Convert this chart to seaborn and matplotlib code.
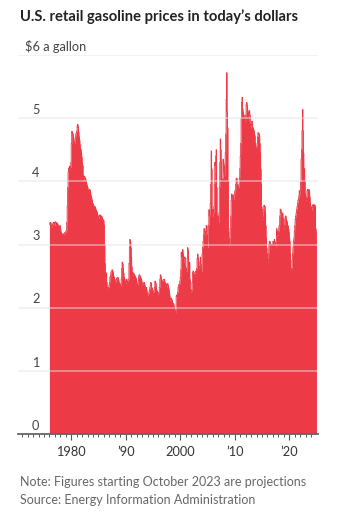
import numpy as np
import pandas as pd
import matplotlib
matplotlib.use("Agg")
import matplotlib.pyplot as plt
import seaborn as sns

# ---- data: monthly price in today's dollars, Jan 1976 .. Dec 2024 ----
years = list(range(1976, 2025))
p1976 = [3.32, 3.34, 3.35, 3.33, 3.30, 3.28, 3.30, 3.32, 3.35, 3.35, 3.33, 3.30]
p1977 = [3.35, 3.36, 3.35, 3.33, 3.32, 3.34, 3.32, 3.30, 3.27, 3.25, 3.28, 3.30]
p1978 = [3.25, 3.20, 3.17, 3.16, 3.16, 3.17, 3.16, 3.16, 3.17, 3.18, 3.19, 3.20]
p1979 = [3.20, 3.22, 3.35, 3.60, 3.90, 4.15, 4.20, 4.22, 4.24, 4.20, 4.22, 4.30]
p1980 = [4.60, 4.79, 4.78, 4.76, 4.72, 4.68, 4.62, 4.60, 4.62, 4.70, 4.75, 4.77]
p1981 = [4.80, 4.88, 4.90, 4.85, 4.78, 4.70, 4.65, 4.58, 4.52, 4.50, 4.45, 4.38]
p1982 = [4.30, 4.25, 4.10, 4.02, 4.05, 4.08, 4.05, 4.04, 4.02, 3.98, 3.95, 3.92]
p1983 = [3.90, 3.86, 3.85, 3.86, 3.87, 3.86, 3.82, 3.78, 3.75, 3.72, 3.68, 3.65]
p1984 = [3.64, 3.62, 3.60, 3.60, 3.60, 3.58, 3.55, 3.54, 3.52, 3.50, 3.47, 3.44]
p1985 = [3.42, 3.44, 3.46, 3.47, 3.46, 3.45, 3.45, 3.44, 3.42, 3.40, 3.39, 3.38]
p1986 = [3.31, 3.00, 2.70, 2.45, 2.55, 2.55, 2.40, 2.30, 2.32, 2.30, 2.32, 2.36]
p1987 = [2.40, 2.48, 2.50, 2.55, 2.58, 2.58, 2.60, 2.58, 2.55, 2.50, 2.48, 2.45]
p1988 = [2.42, 2.40, 2.42, 2.45, 2.47, 2.47, 2.48, 2.47, 2.44, 2.40, 2.37, 2.35]
p1989 = [2.35, 2.38, 2.45, 2.62, 2.72, 2.70, 2.62, 2.55, 2.48, 2.45, 2.40, 2.38]
p1990 = [2.42, 2.45, 2.42, 2.40, 2.42, 2.45, 2.45, 2.70, 2.95, 3.08, 3.05, 2.95]
p1991 = [2.80, 2.65, 2.55, 2.52, 2.55, 2.55, 2.52, 2.52, 2.50, 2.48, 2.47, 2.45]
p1992 = [2.38, 2.35, 2.37, 2.42, 2.48, 2.52, 2.52, 2.50, 2.48, 2.47, 2.45, 2.42]
p1993 = [2.38, 2.38, 2.37, 2.38, 2.40, 2.38, 2.35, 2.32, 2.30, 2.32, 2.28, 2.22]
p1994 = [2.20, 2.22, 2.22, 2.25, 2.28, 2.32, 2.35, 2.40, 2.38, 2.32, 2.30, 2.28]
p1995 = [2.25, 2.25, 2.25, 2.32, 2.42, 2.42, 2.38, 2.32, 2.28, 2.25, 2.22, 2.22]
p1996 = [2.24, 2.25, 2.32, 2.45, 2.52, 2.50, 2.45, 2.42, 2.40, 2.42, 2.44, 2.44]
p1997 = [2.45, 2.44, 2.40, 2.38, 2.38, 2.37, 2.33, 2.38, 2.38, 2.35, 2.32, 2.28]
p1998 = [2.22, 2.17, 2.12, 2.12, 2.15, 2.12, 2.12, 2.08, 2.05, 2.06, 2.02, 1.95]
p1999 = [1.93, 1.92, 1.98, 2.18, 2.20, 2.17, 2.24, 2.32, 2.36, 2.35, 2.37, 2.42]
p2000 = [2.48, 2.60, 2.88, 2.82, 2.80, 2.92, 2.85, 2.72, 2.78, 2.80, 2.80, 2.65]
p2001 = [2.58, 2.62, 2.58, 2.78, 2.95, 2.90, 2.70, 2.62, 2.72, 2.45, 2.28, 2.24]
p2002 = [2.24, 2.28, 2.40, 2.55, 2.58, 2.55, 2.55, 2.55, 2.55, 2.57, 2.58, 2.55]
p2003 = [2.62, 2.78, 2.85, 2.78, 2.65, 2.62, 2.65, 2.72, 2.80, 2.68, 2.62, 2.58]
p2004 = [2.85, 2.95, 3.05, 3.15, 3.25, 3.25, 3.20, 3.15, 3.20, 3.30, 3.30, 3.15]
p2005 = [2.95, 3.05, 3.30, 3.55, 3.45, 3.50, 3.65, 3.95, 4.48, 4.20, 3.55, 3.45]
p2006 = [3.55, 3.50, 3.60, 3.95, 4.30, 4.25, 4.40, 4.50, 3.90, 3.45, 3.40, 3.45]
p2007 = [3.35, 3.50, 3.90, 4.30, 4.67, 4.50, 4.30, 4.05, 4.05, 4.05, 4.35, 4.30]
p2008 = [4.15, 4.10, 4.25, 4.45, 4.75, 5.30, 5.72, 5.10, 4.85, 4.00, 3.20, 2.95]
p2009 = [3.00, 3.10, 3.25, 3.45, 3.70, 3.80, 3.75, 3.78, 3.75, 3.72, 3.78, 3.80]
p2010 = [3.85, 3.85, 3.95, 4.05, 4.05, 3.95, 3.90, 3.92, 3.90, 3.95, 4.05, 4.20]
p2011 = [4.40, 4.60, 5.00, 5.25, 5.33, 5.15, 5.10, 5.05, 5.05, 5.00, 4.95, 4.95]
p2012 = [5.05, 5.22, 5.25, 5.20, 5.10, 5.00, 4.95, 5.12, 5.12, 5.05, 4.90, 4.85]
p2013 = [4.90, 4.95, 4.95, 4.85, 4.85, 4.82, 4.80, 4.75, 4.72, 4.60, 4.54, 4.55]
p2014 = [4.55, 4.60, 4.70, 4.77, 4.77, 4.75, 4.72, 4.60, 4.45, 4.20, 3.95, 3.60]
p2015 = [3.40, 3.45, 3.55, 3.55, 3.62, 3.62, 3.60, 3.50, 3.30, 3.10, 2.95, 2.85]
p2016 = [2.76, 2.72, 2.85, 3.00, 3.05, 3.05, 3.00, 2.95, 2.98, 3.00, 2.95, 3.00]
p2017 = [3.05, 3.02, 3.00, 3.08, 3.05, 3.00, 2.98, 3.02, 3.25, 3.15, 3.20, 3.15]
p2018 = [3.20, 3.28, 3.30, 3.45, 3.56, 3.55, 3.50, 3.50, 3.50, 3.50, 3.42, 3.30]
p2019 = [3.25, 3.30, 3.40, 3.45, 3.45, 3.40, 3.38, 3.35, 3.30, 3.30, 3.25, 3.20]
p2020 = [3.10, 3.05, 2.85, 2.62, 2.60, 2.62, 2.75, 2.85, 2.95, 3.05, 3.10, 3.20]
p2021 = [3.30, 3.40, 3.45, 3.50, 3.55, 3.60, 3.65, 3.70, 3.72, 3.77, 3.85, 3.80]
p2022 = [3.85, 4.00, 4.35, 4.50, 4.80, 5.14, 4.80, 4.45, 4.10, 4.20, 4.00, 3.80]
p2023 = [3.71, 3.70, 3.75, 3.85, 3.87, 3.85, 3.85, 3.87, 3.85, 3.75, 3.65, 3.60]
p2024 = [3.60, 3.55, 3.58, 3.62, 3.63, 3.62, 3.60, 3.63, 3.62, 3.60, 3.25, 3.19]

yticks = [1, 2, 3, 4, 5]
xtick_years = [1980, 1990, 2000, 2010, 2020]
xtick_labels = ["1980", "\u201990", "2000", "\u201910", "\u201920"]
title = "U.S. retail gasoline prices in today\u2019s dollars"
unit_label = "$6 a gallon"
note = "Note: Figures starting October 2023 are projections"
source = "Source: Energy Information Administration"

# ---- assemble ----
series = [globals()[f"p{y}"] for y in years]
rows = []
for y, vals in zip(years, series):
    for m, v in enumerate(vals):
        rows.append({"t": y + m / 12.0, "price": v})
df = pd.DataFrame(rows)
# close the final monthly step
df_plot = pd.concat([df, pd.DataFrame({"t": [df["t"].iloc[-1] + 1 / 12.0],
                                        "price": [df["price"].iloc[-1]]})],
                    ignore_index=True)

RED = "#EC3A46"
sns.set_theme(style="white")
plt.rcParams["font.family"] = ["Lato", "DejaVu Sans"]

W, H = 345, 515
fig = plt.figure(figsize=(W / 100, H / 100), dpi=100)
ax = fig.add_axes([18 / W, (H - 434) / H, 300 / W, 379 / H])

sns.lineplot(data=df_plot, x="t", y="price", ax=ax, drawstyle="steps-post",
             color=RED, linewidth=0.6, zorder=2)
ax.fill_between(df_plot["t"], df_plot["price"], step="post", color=RED,
                linewidth=0, zorder=2)

x0 = 1980 - (71.2 - 18) / 5.45
ax.set_xlim(x0, x0 + 300 / 5.45)
ax.set_ylim(0, 6)

for v in yticks + [6]:
    ax.axhline(v, color="#e4e4e4", alpha=0.6, lw=1.1, zorder=3)

for s in ["left", "right", "top"]:
    ax.spines[s].set_visible(False)
ax.spines["bottom"].set_color("#666666")
ax.spines["bottom"].set_linewidth(1.3)
ax.spines["bottom"].set_zorder(4)

ax.set_yticks([])
ax.set_xticks(xtick_years)
ax.set_xticklabels(xtick_labels)
ax.set_xticks(list(range(1971, 2025)), minor=True)
ax.tick_params(axis="x", which="major", length=4.5, width=0.8, color="#555555",
               pad=4.5, labelsize=9.2, labelcolor="#333333", bottom=True)
ax.tick_params(axis="x", which="minor", length=2.5, width=0.7, color="#555555",
               bottom=True)
ax.set_xlabel("")
ax.set_ylabel("")

lab_x = (32 - 18) / 300
for v in yticks + [0]:
    ax.text(lab_x, v + 0.035, str(v), transform=ax.get_yaxis_transform(),
            ha="left", va="bottom", fontsize=9.2, color="#444444", zorder=5)
ax.text((25 - 18) / 300, 6 + 0.035, unit_label, transform=ax.get_yaxis_transform(),
        ha="left", va="bottom", fontsize=9.2, color="#444444", zorder=5)

fig.text(20 / W, 1 - 17 / H, title, ha="left", va="center", fontsize=10.6,
         fontweight="bold", color="#222222")
fig.text(20 / W, 1 - 482 / H, note, ha="left", va="center", fontsize=9.0,
         color="#666666")
fig.text(20 / W, 1 - 500 / H, source, ha="left", va="center", fontsize=9.0,
         color="#666666")

fig.savefig("out.png", dpi=100)
